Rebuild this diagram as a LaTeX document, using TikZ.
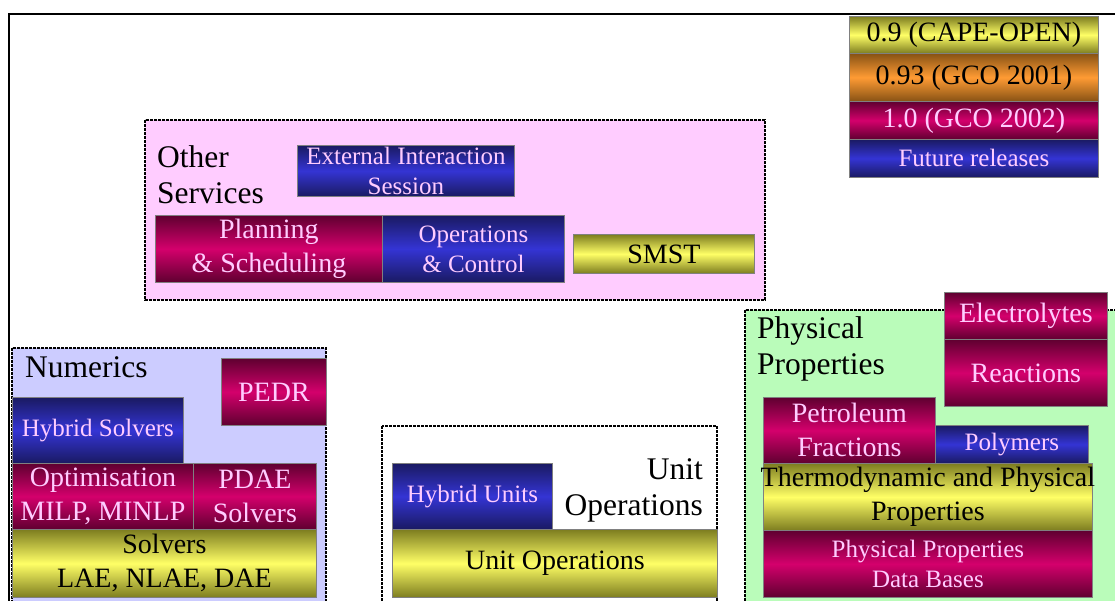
\documentclass[tikz,border=0pt]{standalone}
\usepackage{fontspec}
\setmainfont{Liberation Serif}
\definecolor{magD}{RGB}{95,0,48}
\definecolor{magM}{RGB}{212,0,108}
\definecolor{bluD}{RGB}{26,26,98}
\definecolor{bluM}{RGB}{52,52,212}
\definecolor{yelD}{RGB}{125,125,32}
\definecolor{yelM}{RGB}{255,255,102}
\definecolor{oraD}{RGB}{135,82,20}
\definecolor{oraM}{RGB}{255,155,52}
\definecolor{pinkT}{RGB}{255,204,255}
\definecolor{boxline}{RGB}{128,128,128}
\definecolor{otherFill}{RGB}{255,204,255}
\definecolor{numFill}{RGB}{204,204,255}
\definecolor{physFill}{RGB}{186,252,186}
\tikzset{
  cbox/.style={draw=boxline, line width=0.8pt, inner sep=0pt, anchor=north west, align=center},
  mag/.style={cbox, top color=magD, bottom color=magD, middle color=magM, text=pinkT},
  blu/.style={cbox, top color=bluD, bottom color=bluD, middle color=bluM, text=pinkT},
  yel/.style={cbox, top color=yelD, bottom color=yelD, middle color=yelM, text=black},
  ora/.style={cbox, top color=oraD, bottom color=oraD, middle color=oraM, text=black},
  big/.style={font=\fontsize{28}{34}\selectfont},
  small/.style={font=\fontsize{25}{30}\selectfont},
  reglabel/.style={font=\fontsize{31.5}{36.5}\selectfont, inner sep=0pt, text=black},
  region/.style={draw=black, line width=2.6pt, dash pattern=on 2.6pt off 1.4pt},
  frame/.style={draw=black, line width=2.4pt},
}
\begin{document}
\begin{tikzpicture}[x=1pt,y=-1pt]
\useasboundingbox (0,0) rectangle (1115,601);
\clip (0,0) rectangle (1115,601);
\fill[white] (0,0) rectangle (1115,601);
% regions
\path[region, fill=otherFill] (145,120) rectangle (765,300);
\path[region, fill=numFill] (12,348) rectangle (326,612);
\path[region, fill=white] (382,426) rectangle (717,612);
\path[region, fill=physFill] (745,310) rectangle (1125,612);
% outer frame
\draw[frame] (9,610) -- (9,14) -- (1120,14);
% legend
\node[yel, big, minimum width=249pt, minimum height=37pt] (l1) at (849,16) {0.9 (CAPE-OPEN)};
\node[ora, big, minimum width=249pt, minimum height=48pt] (l2) at (849,53) {0.93 (GCO 2001)};
\node[mag, big, minimum width=249pt, minimum height=38pt] (l3) at (849,101) {1.0 (GCO 2002)};
\node[blu, small, minimum width=249pt, minimum height=38pt] (l4) at (849,139) {Future releases};
% other services
\node[reglabel, anchor=north west, align=left] (othlab) at (157,145) {Other\\Services};
\node[blu, small, minimum width=217pt, minimum height=51pt] (ext) at (297,145) {External Interaction\\Session};
\node[mag, big, minimum width=227pt, minimum height=67pt] (plan) at (155,215) {Planning\\\& Scheduling};
\node[blu, small, minimum width=182pt, minimum height=67pt] (ops) at (382,215) {Operations\\\& Control};
\node[yel, big, minimum width=181pt, minimum height=39pt] (smst) at (573,234) {SMST};
% numerics
\node[reglabel, anchor=base west] (numlab) at (25,377) {Numerics};
\node[mag, big, minimum width=105pt, minimum height=67pt] (pedr) at (221,358) {PEDR};
\node[blu, small, minimum width=171pt, minimum height=66pt] (hyb) at (12,397) {Hybrid Solvers};
\node[mag, big, minimum width=181pt, minimum height=66pt] (opt) at (12,463) {Optimisation\\MILP, MINLP};
\node[mag, big, minimum width=123pt, minimum height=66pt] (pdae) at (193,463) {PDAE\\Solvers};
\node[yel, big, minimum width=304pt, minimum height=68pt] (solv) at (12,529) {Solvers\\LAE, NLAE, DAE};
% unit operations
\node[reglabel, anchor=north east, align=right] (uolab) at (703,458) {Unit\\Operations};
\node[blu, small, minimum width=160pt, minimum height=66pt] (hunit) at (392,463) {Hybrid Units};
\node[yel, big, minimum width=325pt, minimum height=68pt] (uop) at (392,529) {Unit Operations};
% physical properties
\node[reglabel, anchor=north west, align=left] (pplab) at (757,316) {Physical\\Properties};
\node[mag, big, minimum width=163pt, minimum height=47pt] (elec) at (944,292) {Electrolytes};
\node[mag, big, minimum width=163pt, minimum height=67pt] (reac) at (944,339) {Reactions};
\node[mag, big, minimum width=172pt, minimum height=66pt] (petr) at (763,397) {Petroleum\\Fractions};
\node[blu, small, minimum width=153pt, minimum height=38pt] (poly) at (935,425) {Polymers};
\node[yel, big, minimum width=329pt, minimum height=67pt] (thermo) at (763,463) {\makebox[0pt]{Thermodynamic and Physical}\\Properties};
\node[mag, small, minimum width=329pt, minimum height=67pt] (ppdb) at (763,530) {Physical Properties\\Data Bases};
\end{tikzpicture}
\end{document}
